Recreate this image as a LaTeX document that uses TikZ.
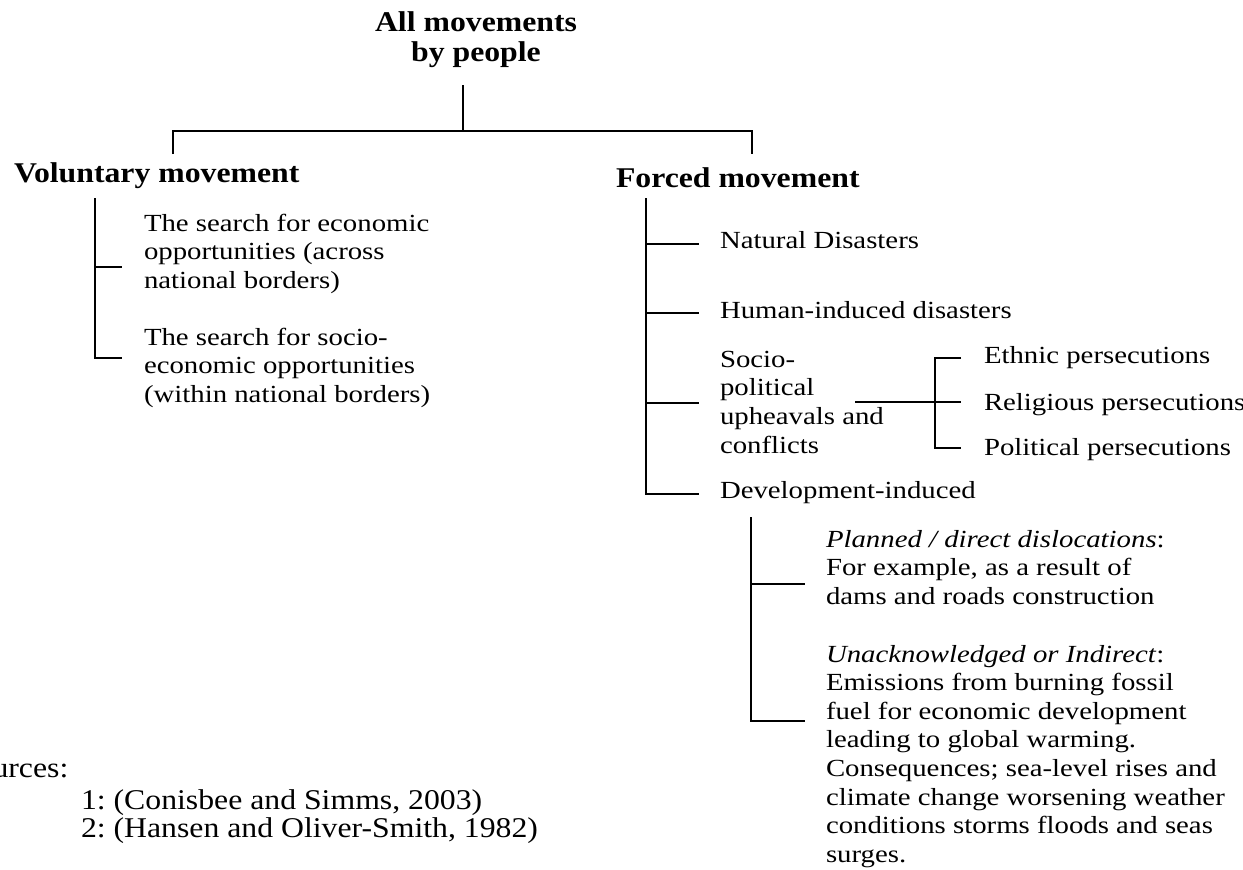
\documentclass[tikz,border=0pt]{standalone}
\usepackage{fontspec}
\setmainfont{Liberation Serif}
\newfontfamily\bodyfont[FakeStretch=1.17]{Liberation Serif}
\newfontfamily\headfont[FakeStretch=1.11]{Liberation Serif}
\frenchspacing

\begin{document}
\begin{tikzpicture}[x=0.5pt, y=-0.5pt, line width=1pt,
  body/.style={inner sep=0, align=left, font=\bodyfont\fontsize{12.3}{14.3}\selectfont},
  head/.style={inner sep=0, font=\headfont\bfseries\fontsize{14.3}{15}\selectfont},
  srcs/.style={inner sep=0, anchor=base west, font=\headfont\fontsize{14.3}{14}\selectfont}]
\useasboundingbox (0,0) rectangle (1243,869);
\clip (0,0) rectangle (1243,869);

\node[head, align=center, anchor=north] (all) at (476,10.7) {All movements\\by people};
\node[head, anchor=base west] (vol) at (13,182) {Voluntary movement};
\node[head, anchor=base west] (forced) at (615,187) {Forced movement};

\node[body, anchor=north west] (econ) at (143,213) {The search for economic\\opportunities (across\\national borders)};
\node[body, anchor=north west] (socioeco) at (143,327) {The search for socio-\\economic opportunities\\(within national borders)};

\node[body, anchor=base west] (natural) at (719,248) {Natural Disasters};
\node[body, anchor=base west] (human) at (719,318) {Human-induced disasters};
\node[body, anchor=north west] (sociopol) at (719,350) {Socio-\\political\\upheavals and\\conflicts};
\node[body, anchor=base west] (devel) at (719,498) {Development-induced};

\node[body, anchor=base west] (ethnic) at (983,363) {Ethnic persecutions};
\node[body, anchor=base west] (relig) at (983,410) {Religious persecutions};
\node[body, anchor=base west] (polit) at (983,455) {Political persecutions};

\node[body, anchor=north west] (planned) at (825,529) {\textit{Planned / direct dislocations}:\\For example, as a result of\\dams and roads construction};
\node[body, anchor=north west] (indirect) at (825,644) {\textit{Unacknowledged or Indirect}:\\Emissions from burning fossil\\fuel for economic development\\leading to global warming.\\Consequences; sea-level rises and\\climate change worsening weather\\conditions storms floods and seas\\surges.};

\node[srcs] (src) at (-42,777) {Sources:};
\node[srcs] (ref1) at (80,809) {1: (Conisbee and Simms, 2003)};
\node[srcs] (ref2) at (80,837) {2: (Hansen and Oliver-Smith, 1982)};

\coordinate (allfoot) at (463,85);
\coordinate (split) at (463,131);
\coordinate (volhead) at (173,154);
\coordinate (forcedhead) at (752,154);
\draw (allfoot) -- (split);
\draw (volhead) |- (split) -| (forcedhead);

\coordinate (voltrunk) at (95,198);
\coordinate (econtip) at (122,267);
\coordinate (socioecotip) at (122,358);
\draw (voltrunk) |- (econtip);
\draw (voltrunk) |- (socioecotip);

\coordinate (forcedtrunk) at (646,198);
\coordinate (naturaltip) at (699,244);
\draw[line width=0.6pt] (forcedtrunk) |- (naturaltip);
\foreach \n/\y in {humantip/313, sociopoltip/403, develtip/494} {
 \coordinate (\n) at (699,\y);
 \draw (forcedtrunk) |- (\n);
}

\coordinate (sociopolout) at (855,402);
\coordinate (perstop) at (935,358);
\coordinate (persbot) at (935,448);
\coordinate (ethnictip) at (961,358);
\coordinate (religtip) at (961,402);
\coordinate (polittip) at (961,448);
\draw (sociopolout) -- (religtip);
\draw (ethnictip) -- (perstop) -- (persbot) -- (polittip);

\coordinate (develtrunk) at (751,517);
\coordinate (plannedtip) at (805,584);
\coordinate (indirecttip) at (805,721);
\draw (develtrunk) |- (plannedtip);
\draw (develtrunk) |- (indirecttip);
\end{tikzpicture}
\end{document}
